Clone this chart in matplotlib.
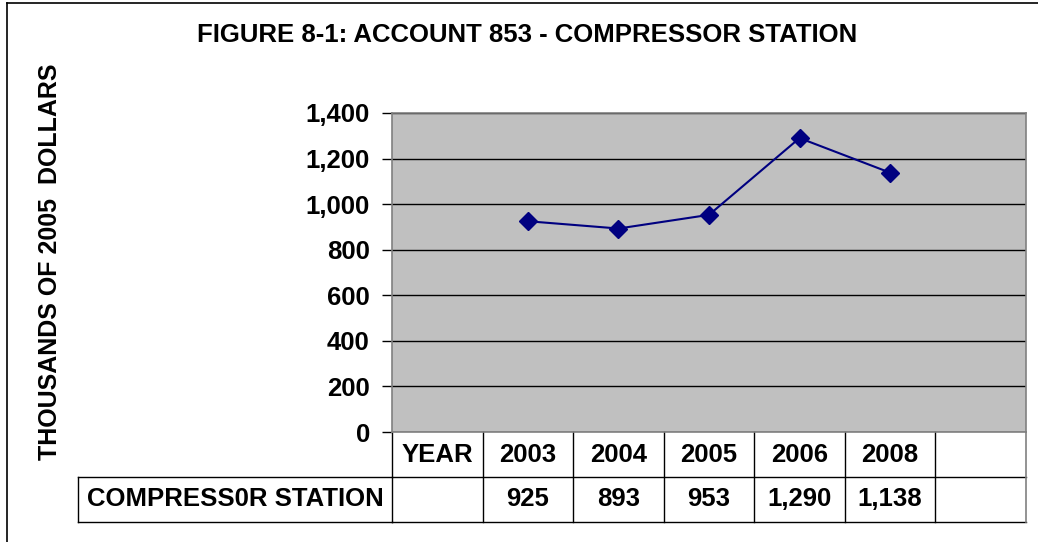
import matplotlib
matplotlib.use("Agg")
import matplotlib.pyplot as plt
import matplotlib.transforms as mtransforms
from matplotlib.lines import Line2D

plt.rcParams['font.family'] = ['Liberation Sans', 'DejaVu Sans']
plt.rcParams['font.weight'] = 'bold'

# ---- data ----
categories = ["YEAR", "2003", "2004", "2005", "2006", "2008", ""]
years = ["2003", "2004", "2005", "2006", "2008"]
values = [925, 893, 953, 1290, 1138]
value_labels = ["925", "893", "953", "1,290", "1,138"]
series_name = "COMPRESS0R STATION"
title = "FIGURE 8-1: ACCOUNT 853 - COMPRESSOR STATION"
ylabel = "THOUSANDS OF 2005  DOLLARS"
yticks = [0, 200, 400, 600, 800, 1000, 1200, 1400]

FS = 18.5
W, H = 1038, 542
fig = plt.figure(figsize=(W / 100, H / 100), dpi=100)

# chart frame (left + top visible)
fig.add_artist(Line2D([7 / W, 7 / W], [0, 1 - 3 / H], transform=fig.transFigure, color='black', lw=1.2))
fig.add_artist(Line2D([7 / W, 1], [1 - 3 / H, 1 - 3 / H], transform=fig.transFigure, color='black', lw=1.2))

# plot area in pixels
px_l, px_r, px_t, px_b = 392, 1026, 113, 432
ax = fig.add_axes([px_l / W, 1 - px_b / H, (px_r - px_l) / W, (px_b - px_t) / H])
ax.set_facecolor('#C0C0C0')
ncat = len(categories)
ax.set_xlim(-0.5, ncat - 0.5)
ax.set_ylim(0, 1400)
ax.set_yticks(yticks)
ax.set_yticklabels([f"{v:,}" for v in yticks], fontsize=FS, fontweight='bold')
ax.tick_params(axis='y', direction='out', length=7, width=1, pad=9, color='black')
ax.set_xticks([])
ax.grid(axis='y', color='black', lw=1)
ax.set_axisbelow(True)
for s in ax.spines.values():
    s.set_color('#808080')
    s.set_linewidth(1.2)

xpos = [categories.index(y) for y in years]
ax.plot(xpos, values, color='#000080', lw=1.5, marker='D', markersize=9,
        markerfacecolor='#000080', markeredgecolor='#000080', clip_on=False, zorder=5)

# data table below the plot
trans = mtransforms.blended_transform_factory(ax.transData, ax.transAxes)
row_h = 45 / (px_b - px_t)
x0, x1 = -0.5, ncat - 0.5
lbl_left = (78 - px_l) / (px_r - px_l)
kw = dict(clip_on=False, color='black', lw=1)

ax.add_line(Line2D([x0, x1], [-row_h, -row_h], transform=trans, **kw))
ax.add_line(Line2D([x0, x1], [-2 * row_h, -2 * row_h], transform=trans, **kw))
ax.add_line(Line2D([lbl_left, 0], [-row_h, -row_h], transform=ax.transAxes, **kw))
ax.add_line(Line2D([lbl_left, 0], [-2 * row_h, -2 * row_h], transform=ax.transAxes, **kw))
ax.add_line(Line2D([lbl_left, lbl_left], [-row_h, -2 * row_h], transform=ax.transAxes, **kw))
for i in range(ncat + 1):
    xv = i - 0.5
    last = i == ncat
    ax.add_line(Line2D([xv, xv], [0, -2 * row_h], transform=trans, clip_on=False,
                       color='#808080' if last else 'black', lw=1.2 if last else 1))

for i, c in enumerate(categories):
    ax.text(i, -row_h / 2, c, transform=trans, ha='center', va='center', fontsize=FS, fontweight='bold')
for x, lab in zip(xpos, value_labels):
    ax.text(x, -1.5 * row_h, lab, transform=trans, ha='center', va='center', fontsize=FS, fontweight='bold')
ax.text(lbl_left / 2, -1.5 * row_h, series_name, transform=ax.transAxes, ha='center', va='center',
        fontsize=FS, fontweight='bold')

fig.text(527 / W, 1 - 35 / H, title, ha='center', va='center', fontsize=FS, fontweight='bold')
fig.text(50 / W, 1 - 262 / H, ylabel, ha='center', va='center', rotation=90, fontsize=18, fontweight='bold')

fig.savefig("out.png", dpi=100)
